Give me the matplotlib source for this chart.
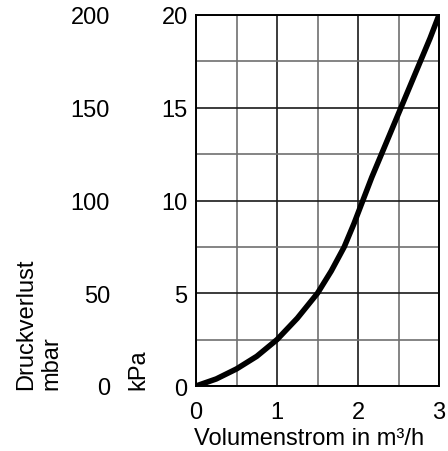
import matplotlib.pyplot as plt
from matplotlib.ticker import MultipleLocator

plt.rcParams['font.family'] = ['Liberation Sans', 'DejaVu Sans']

# Volumenstrom in m3/h vs Druckverlust in kPa
flow = [0, 0.25, 0.5, 0.75, 1.0, 1.25, 1.5, 1.67, 1.83, 1.95, 2.06, 2.17,
        2.29, 2.41, 2.53, 2.65, 2.77, 2.89, 3.0]
loss_kpa = [0, 0.38, 0.92, 1.6, 2.5, 3.65, 5.0, 6.2, 7.5, 8.75, 10.0, 11.25,
            12.5, 13.75, 15.0, 16.25, 17.5, 18.75, 20.0]

kpa_ticks = [0, 5, 10, 15, 20]
flow_ticks = [0, 1, 2, 3]

fs = 17

fig = plt.figure(figsize=(4.48, 4.52), dpi=100)
ax = fig.add_axes([196 / 448, 1 - 387 / 452, 243 / 448, 371 / 452])

ax.plot(flow, loss_kpa, color='black', lw=4, solid_capstyle='round', solid_joinstyle='round', zorder=3)

ax.set_xlim(0, 3)
ax.set_ylim(0, 20)
ax.set_xticks(flow_ticks)
ax.set_yticks(kpa_ticks)
ax.xaxis.set_minor_locator(MultipleLocator(0.5))
ax.yaxis.set_minor_locator(MultipleLocator(2.5))
ax.grid(which='major', color='#1a1a1a', lw=1.2)
ax.grid(which='minor', color='#707070', lw=1.2)
ax.tick_params(which='both', length=0, labelsize=fs)
ax.tick_params(axis='y', pad=6)
ax.tick_params(axis='x', pad=11)
for s in ax.spines.values():
    s.set_linewidth(1.4)

# mbar scale on the far left
sec = ax.secondary_yaxis('left', functions=(lambda v: v * 10, lambda v: v / 10))
sec.set_yticks([t * 10 for t in kpa_ticks])
sec.tick_params(length=0, labelsize=fs, pad=62)
sec.spines['left'].set_visible(False)

fig.text(309 / 448, 1 - 445 / 452, 'Volumenstrom in m³/h', fontsize=fs, ha='center', va='baseline')
fig.text(15 / 448, 1 - 390 / 452, 'Druckverlust\nmbar', rotation=90, fontsize=fs,
         ha='left', va='bottom', multialignment='left')
fig.text(127 / 448, 1 - 390 / 452, 'kPa', rotation=90, fontsize=fs, ha='left', va='bottom')

fig.savefig('out.png', dpi=100)
